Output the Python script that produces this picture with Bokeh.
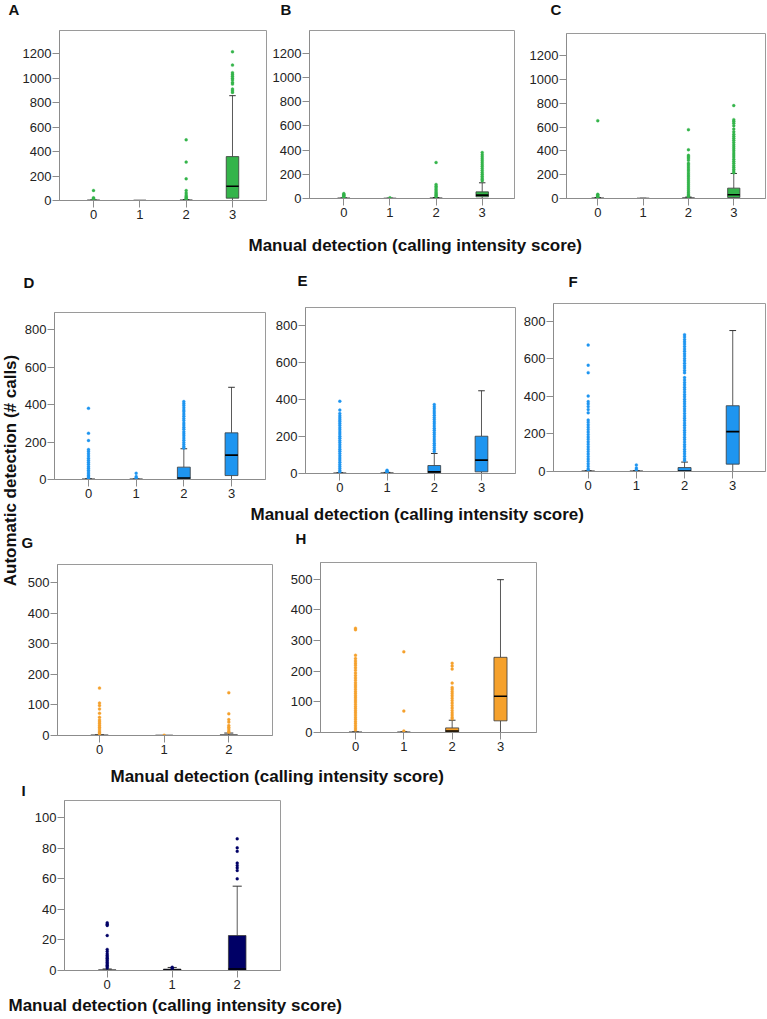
import numpy as np
from bokeh.plotting import figure
from bokeh.models import Range1d, FixedTicker
from bokeh.layouts import row, column
from bokeh.embed import file_html
from bokeh.resources import INLINE
from bokeh.core.properties import value

FONT = "Liberation Sans"

# ---------------- data ----------------
# Panel A (green)
A_q1 = [0, 0, 0, 19]
A_med = [0, 0, 0, 117]
A_q3 = [2, 0, 3, 359]
A_lo = [0, 0, 0, 0]
A_hi = [4, 0, 7, 857]
A_out = [[82, 22, 15, 10, 7], [],
         [496, 314, 177, 82, 62, 45, 33, 24, 16, 10],
         [1216, 1107, 1045, 1030, 1015, 1000, 985, 965, 952, 911, 898, 884]]
# Panel B (green)
B_q1 = [0, 0, 0, 14]
B_med = [0, 0, 0, 28]
B_q3 = [2, 0, 3, 55]
B_lo = [0, 0, 0, 0]
B_hi = [5, 3, 8, 130]
B_out = [[41, 34, 27, 20, 13, 8], [6],
         [298, 116, 102, 88, 75, 62, 50, 40, 30, 22, 15],
         [381, 362, 345, 328, 312, 296, 280, 264, 248, 232, 216, 200, 185, 170, 158, 146]]
# Panel C (green)
C_q1 = [0, 0, 0, 8]
C_med = [0, 0, 0, 31]
C_q3 = [3, 0, 5, 87]
C_lo = [0, 0, 0, 0]
C_hi = [8, 2, 12, 210]
C_out = [[653, 36, 29, 22, 15, 10], [],
         [578, 409, 362, 350, 338, 322, 296, 282, 265, 248, 232, 215, 198, 182, 165,
          148, 132, 115, 98, 82, 66, 50, 36, 24, 16],
         [780, 662, 648, 632, 611, 583, 560, 540, 522, 505, 488, 470, 452, 435, 418,
          400, 382, 365, 348, 330, 312, 295, 278, 262, 246, 230, 216]]
# Panel D (blue)
D_q1 = [0, 0, 4, 21]
D_med = [0, 0, 8, 130]
D_q3 = [2, 2, 66, 249]
D_lo = [0, 0, 0, 0]
D_hi = [4, 3, 164, 492]
D_out = [[380, 247, 208, 160, 150, 138, 126, 114, 103, 92, 81, 70, 60, 50, 40, 31, 22, 14, 7],
         [34, 16, 10, 6],
         [416, 405, 395, 383, 371, 362, 349, 338, 326, 315, 302, 291, 279, 268, 255, 244,
          233, 221, 210, 198, 187, 176, 168],
         []]
# Panel E (blue)
E_q1 = [0, 0, 4, 9]
E_med = [0, 0, 9, 72]
E_q3 = [2, 3, 43, 201]
E_lo = [0, 0, 0, 0]
E_hi = [4, 6, 108, 446]
E_out = [[390, 342, 324, 311, 300, 290, 281, 270, 259, 247, 236, 224, 213, 201, 190, 178,
          167, 155, 143, 131, 120, 108, 96, 84, 73, 61, 49, 38, 27, 16, 8],
         [18, 12, 7],
         [372, 360, 349, 337, 326, 314, 302, 291, 279, 268, 256, 244, 233, 221, 210, 198,
          186, 175, 163, 152, 140, 129, 118],
         []]
# Panel F (blue)
F_q1 = [0, 0, 0, 39]
F_med = [0, 0, 2, 212]
F_q3 = [2, 2, 21, 350]
F_lo = [0, 0, 0, 0]
F_hi = [4, 4, 50, 750]
F_out = [[673, 566, 526, 402, 372, 360, 346, 330, 312, 274, 262, 249, 236, 223, 210, 197,
          184, 171, 158, 145, 132, 119, 106, 93, 80, 67, 54, 41, 28, 15, 8],
         [35, 18, 9],
         [728, 716, 703, 690, 678, 665, 652, 640, 627, 614, 601, 589, 576, 563, 551, 538,
          525, 500, 487, 474, 461, 448, 436, 423, 410, 398, 385, 372, 360, 347, 334, 322,
          309, 296, 284, 271, 258, 246, 233, 220, 208, 195, 182, 170, 157, 144, 132, 119,
          106, 94, 81, 68, 58],
         []]
# Panel G (orange)
G_q1 = [0, 0, 0]
G_med = [0, 0, 0]
G_q3 = [1, 0, 2]
G_lo = [0, 0, 0]
G_hi = [2, 0, 8]
G_out = [[155, 106, 98, 87, 73, 60, 51, 45, 39, 33, 27, 21, 15, 10, 5],
         [1],
         [140, 71, 52, 44, 33, 27, 21, 15, 11]]
# Panel H (orange)
H_q1 = [0, 0, 2, 38]
H_med = [0, 0, 5, 118]
H_q3 = [1, 1, 15, 245]
H_lo = [0, 0, 0, 0]
H_hi = [2, 2, 40, 498]
H_out = [[340, 335, 252, 241, 233, 226, 219, 211, 203, 194, 186, 178, 170, 162, 155, 148,
          141, 134, 127, 120, 113, 106, 99, 92, 85, 78, 71, 64, 57, 50, 43, 36, 29, 22, 15, 8],
         [263, 70, 5],
         [226, 217, 207, 161, 147, 141, 134, 127, 120, 112, 104, 96, 88, 80, 72, 64, 57, 50, 45],
         []]
# Panel I (navy)
I_q1 = [0, 0, 0]
I_med = [0, 0.3, 1]
I_q3 = [0.4, 0.9, 22.9]
I_lo = [0, 0, 0]
I_hi = [1, 2, 55.2]
I_out = [[31.2, 30.3, 29.5, 22.9, 13.8, 12.4, 10.9, 9.8, 8.9, 8.0, 7.1, 6.2, 5.3, 4.4, 3.5, 2.6, 1.7],
         [2.2, 1.5],
         [86.2, 80.3, 78.1, 70.3, 68.8, 67.2, 65.5, 60.0]]

TICKS_ABC = [0, 200, 400, 600, 800, 1000, 1200]
TICKS_DEF = [0, 200, 400, 600, 800]
TICKS_GH = [0, 100, 200, 300, 400, 500]
TICKS_I = [0, 20, 40, 60, 80, 100]

AXIS_TITLE = "Manual detection (calling intensity score)"
Y_TITLE = "Automatic detection (# calls)"

GREEN = "#34b44a"
BLUE = "#1e95f0"
ORANGE = "#f5a12c"
NAVY = "#000066"

BOX_W = 0.27
CAP_W = 0.14


def panel(q1, med, q3, lo, hi, outs, color, y_end, yticks, xr, w, h, bl, br, bt, bb):
    n = len(q1)
    cats = np.arange(n, dtype=float)
    p = figure(width=w, height=h, x_range=Range1d(*xr), y_range=Range1d(0, y_end),
               output_backend="svg", toolbar_location=None,
               min_border_left=bl, min_border_right=br, min_border_top=bt, min_border_bottom=bb)
    p.grid.visible = False
    p.outline_line_color = "#9a9a9a"
    p.outline_line_width = 1
    p.background_fill_color = "white"
    p.border_fill_color = "white"
    for ax in (p.xaxis[0], p.yaxis[0]):
        ax.axis_line_color = "#8c8c8c"
        ax.major_tick_line_color = "#8c8c8c"
        ax.major_tick_in = 0
        ax.major_tick_out = 7
        ax.minor_tick_line_color = None
        ax.major_label_text_font = FONT
        ax.major_label_text_font_size = "13px"
        ax.major_label_text_color = "#222222"
    p.xaxis[0].major_label_standoff = 2
    p.yaxis[0].major_label_standoff = 1
    p.xaxis[0].ticker = FixedTicker(ticks=list(range(n)))
    p.yaxis[0].ticker = FixedTicker(ticks=yticks)

    q1a, meda, q3a = np.array(q1, float), np.array(med, float), np.array(q3, float)
    loa, hia = np.array(lo, float), np.array(hi, float)
    p.segment(x0=cats, y0=q3a, x1=cats, y1=hia, line_color="#5a5a5a", line_width=1)
    p.segment(x0=cats, y0=q1a, x1=cats, y1=loa, line_color="#5a5a5a", line_width=1)
    p.segment(x0=cats - CAP_W / 2, y0=hia, x1=cats + CAP_W / 2, y1=hia, line_color="#333333", line_width=1)
    p.vbar(x=cats, width=BOX_W, bottom=q1a, top=q3a, fill_color=color,
           line_color="#3a3a3a", line_width=0.8)
    p.segment(x0=cats - BOX_W / 2, y0=meda, x1=cats + BOX_W / 2, y1=meda,
              line_color="#000000", line_width=1.6)
    ox, oy = [], []
    for i, vals in enumerate(outs):
        ox += [i] * len(vals)
        oy += list(vals)
    p.scatter(x=ox, y=oy, size=3, marker="circle", fill_color=color, line_color=color, line_width=0.3)
    return column(p)


def strip(w, h, items):
    p = figure(width=w, height=h, x_range=Range1d(0, w), y_range=Range1d(h, 0),
               output_backend="svg", toolbar_location=None,
               x_axis_type=None, y_axis_type=None,
               min_border_left=0, min_border_right=0, min_border_top=0, min_border_bottom=0)
    p.outline_line_color = None
    p.background_fill_color = "white"
    p.border_fill_color = "white"
    for it in items:
        x, y, t, size = it[0], it[1], it[2], it[3]
        angle = it[4] if len(it) > 4 else 0.0
        align = it[5] if len(it) > 5 else "left"
        p.text(x=[x], y=[y], text=[t], text_font=value(FONT), text_font_style="bold",
               text_font_size=size, text_baseline="middle", text_align=align, angle=angle,
               text_color="#111111")
    return row(p)


# ---------------- panels (page has no margin: pixel positions as in reference) ----------------
pA = panel(A_q1, A_med, A_q3, A_lo, A_hi, A_out, GREEN, 1390, TICKS_ABC, (-0.734, 3.734), 268, 200, 59, 2, 2, 28)
pB = panel(B_q1, B_med, B_q3, B_lo, B_hi, B_out, GREEN, 1390, TICKS_ABC, (-0.744, 3.70), 248, 200, 41, 2, 2, 30)
pC = panel(C_q1, C_med, C_q3, C_lo, C_hi, C_out, GREEN, 1385, TICKS_ABC, (-0.69, 3.70), 251, 200, 50, 2, 5, 30)

pD = panel(D_q1, D_med, D_q3, D_lo, D_hi, D_out, BLUE, 891, TICKS_DEF, (-0.713, 3.713), 246, 208, 33, 2, 16, 25)
pE = panel(E_q1, E_med, E_q3, E_lo, E_hi, E_out, BLUE, 895, TICKS_DEF, (-0.727, 3.72), 250, 208, 38, 2, 11, 31)
pF = panel(F_q1, F_med, F_q3, F_lo, F_hi, F_out, BLUE, 894, TICKS_DEF, (-0.72, 3.68), 250, 208, 36, 2, 7, 33)

pG = panel(G_q1, G_med, G_q3, G_lo, G_hi, G_out, ORANGE, 559, TICKS_GH, (-0.65, 2.676), 259, 206, 36, 8, 8, 27)
pH = panel(H_q1, H_med, H_q3, H_lo, H_hi, H_out, ORANGE, 554, TICKS_GH, (-0.724, 3.745), 487, 206, 40, 231, 6, 30)

pI = panel(I_q1, I_med, I_q3, I_lo, I_hi, I_out, NAVY, 111.3, TICKS_I, (-0.657, 2.666), 290, 196, 64, 10, 2, 24)

# ---------------- text strips ----------------
s0 = strip(767, 28, [(8, 9, "A", "15px"), (280, 9, "B", "15px"), (550, 9, "C", "15px")])
s1 = strip(767, 68, [(248, 17, AXIS_TITLE, "17px"),
                     (23, 54, "D", "15px"), (297, 52, "E", "15px"), (568, 53, "F", "15px")])
sL = strip(21, 466, [(9.5, 174, Y_TITLE, "17px", np.pi / 2, "center")])
s2 = strip(746, 52, [(229, 10, AXIS_TITLE, "17px"), (0, 38, "G", "15px"), (274, 34, "H", "15px")])
s3 = strip(767, 36, [(110, 14, AXIS_TITLE, "17px"), (21, 27.5, "I", "15px")])
s4 = strip(767, 25, [(8, 11, AXIS_TITLE, "17px")])

layout = column(
    s0,
    row(pA, pB, pC),
    s1,
    row(sL, column(row(pD, pE, pF), s2, row(pG, pH))),
    s3,
    pI,
    s4,
)

open("out.html", "w").write(file_html(layout, INLINE))
